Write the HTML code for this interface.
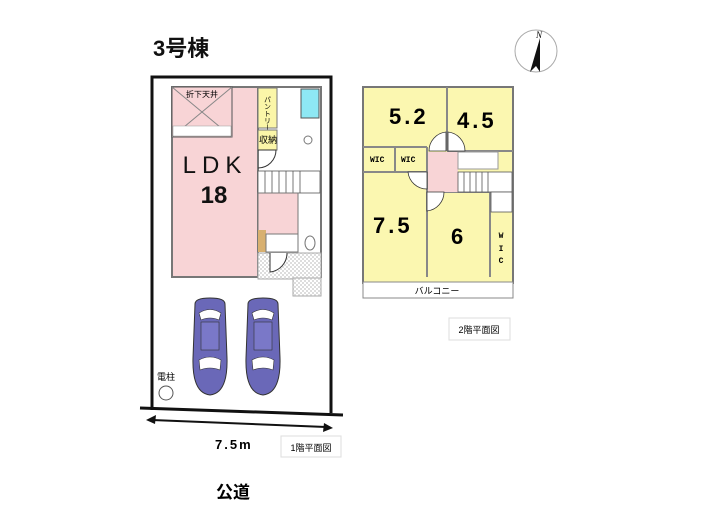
<!DOCTYPE html>
<html><head><meta charset="utf-8"><style>
body{margin:0;background:#fff;}
svg{display:block;font-family:"Liberation Sans","Noto Sans CJK JP",sans-serif;}
</style></head><body>
<svg width="705" height="525" viewBox="0 0 705 525" xmlns="http://www.w3.org/2000/svg">
<defs>
<pattern id="hat" width="4" height="4" patternUnits="userSpaceOnUse"><rect width="4" height="4" fill="#fff"/><rect width="2" height="2" fill="#ddd"/><rect x="2" y="2" width="2" height="2" fill="#ddd"/></pattern>
<g id="car">
<path d="M4 6 Q4 0 19 0 Q34 0 34 6 L36 60 Q37 95 19 97 Q1 95 2 60 Z" fill="#6a68b8" stroke="#333" stroke-width="1"/>
<path d="M8 15 Q19 8 30 15 L28 22 Q19 18 10 22 Z" fill="#fff" stroke="#333" stroke-width="0.6"/>
<rect x="10" y="24" width="18" height="28" fill="#7a78c8" stroke="#333" stroke-width="0.6"/>
<path d="M8 62 Q19 56 30 62 L29 72 Q19 68 9 72 Z" fill="#fff" stroke="#333" stroke-width="0.6"/>
</g>
</defs>
<text x="153" y="56" font-size="22" font-weight="bold" fill="#111">3号棟</text>
<circle cx="536" cy="51" r="21" fill="none" stroke="#aaa"/>
<polygon points="540,38 530,72 536,66 540,72" fill="#111"/>
<text x="536" y="38" font-size="9" font-style="italic" font-family="Liberation Serif,serif">N</text>
<polyline points="152,410 152,77 331,77 331,413" fill="none" stroke="#111" stroke-width="3"/>
<line x1="140" y1="408" x2="343" y2="415" stroke="#111" stroke-width="3"/>
<!-- 1F -->
<rect x="172" y="87" width="86" height="190" fill="#f8d4d6" stroke="#777" stroke-width="2"/>
<rect x="172" y="87" width="60" height="50" fill="#f8d4d6" stroke="#555" stroke-width="1"/>
<line x1="172" y1="87" x2="232" y2="137" stroke="#888"/><line x1="232" y1="87" x2="172" y2="137" stroke="#888"/>
<rect x="173" y="126" width="58" height="10" fill="#fff" stroke="#999" stroke-width="0.5"/>
<text x="186" y="97" font-size="8">折下天井</text>
<rect x="258" y="87" width="63" height="190" fill="#fff" stroke="#777" stroke-width="2"/>
<rect x="258" y="88" width="19" height="40" fill="#fbf6a8" stroke="#777"/>
<text x="267" y="96" font-size="7" writing-mode="tb">パントリー</text>
<rect x="301" y="89" width="18" height="29" fill="#8ee8f4" stroke="#555"/>
<rect x="258" y="130" width="19" height="20" fill="#fbf6a8" stroke="#777"/>
<text x="259" y="143" font-size="9">収納</text>
<circle cx="308" cy="140" r="4" fill="none" stroke="#777"/>
<path d="M258 150 L276 150 A18 18 0 0 1 258 168" fill="none" stroke="#333"/>
<g stroke="#555" stroke-width="0.8">
<rect x="258" y="171" width="62" height="22" fill="#fff"/>
<line x1="265" y1="171" x2="265" y2="193"/><line x1="272" y1="171" x2="272" y2="193"/><line x1="279" y1="171" x2="279" y2="193"/><line x1="286" y1="171" x2="286" y2="193"/><line x1="293" y1="171" x2="293" y2="193"/><line x1="300" y1="171" x2="300" y2="193"/>
</g>
<rect x="258" y="193" width="40" height="58" fill="#f8d4d6" stroke="#777"/>
<rect x="258" y="230" width="8" height="22" fill="#d8b070"/>
<rect x="266" y="234" width="32" height="18" fill="#fff" stroke="#777"/>
<ellipse cx="310" cy="243" rx="5" ry="7" fill="#fff" stroke="#777"/>
<rect x="258" y="253" width="63" height="26" fill="url(#hat)" stroke="#aaa"/>
<rect x="293" y="278" width="28" height="18" fill="url(#hat)" stroke="#aaa"/>
<path d="M270 253 L270 272 A19 19 0 0 0 287 253" fill="#fff" stroke="#333"/>
<text x="215" y="173" font-size="24" text-anchor="middle" fill="#111" letter-spacing="6">LDK</text>
<text x="214" y="203" font-size="24" font-weight="bold" text-anchor="middle" fill="#111">18</text>
<use href="#car" x="191" y="298"/>
<use href="#car" x="244" y="298"/>
<text x="157" y="380" font-size="9">電柱</text>
<circle cx="166" cy="393" r="7" fill="#fff" stroke="#555"/>
<line x1="152" y1="420" x2="326" y2="427" stroke="#111" stroke-width="2"/>
<polygon points="146,420 156,415 155,424" fill="#111"/>
<polygon points="333,428 323,432 324,423" fill="#111"/>
<text x="215" y="449" font-size="13" font-weight="bold" letter-spacing="2">7.5m</text>
<rect x="281" y="436" width="60" height="21" fill="#fff" stroke="#ddd"/>
<text x="311" y="451" font-size="9" text-anchor="middle">1階平面図</text>
<text x="216" y="498" font-size="17" font-weight="bold">公道</text>
<!-- 2F -->
<rect x="363" y="87" width="150" height="196" fill="#fbf7b0" stroke="#777" stroke-width="2"/>
<rect x="363" y="282" width="150" height="16" fill="#fff" stroke="#888"/>
<text x="437" y="294" font-size="9" text-anchor="middle">バルコニー</text>
<g fill="none" stroke="#888" stroke-width="2">
<line x1="447" y1="87" x2="447" y2="151"/>
<line x1="363" y1="147" x2="427" y2="147"/>
<line x1="395" y1="147" x2="395" y2="172"/>
<line x1="427" y1="147" x2="427" y2="277"/>
<line x1="363" y1="172" x2="427" y2="172"/>
<line x1="447" y1="151" x2="513" y2="151"/>
<line x1="427" y1="192" x2="490" y2="192"/>
<line x1="490" y1="192" x2="490" y2="277"/>
</g>
<rect x="428" y="152" width="30" height="40" fill="#f8d4d6"/>
<g fill="#fff" stroke="#333" stroke-width="0.8">
<path d="M446 151 L446 132 A19 19 0 0 0 429 151 Z"/>
<path d="M448 151 L448 132 A19 19 0 0 1 465 151 Z"/>
<path d="M427 192 L427 211 A19 19 0 0 0 444 192 Z" />
<path d="M427 172 L408 172 A19 19 0 0 0 427 189 Z"/>
</g>
<rect x="458" y="152" width="40" height="17" fill="#fff" stroke="#999"/>
<g stroke="#555" stroke-width="0.8"><rect x="458" y="172" width="54" height="20" fill="#fff"/>
<line x1="464" y1="172" x2="464" y2="192"/><line x1="470" y1="172" x2="470" y2="192"/><line x1="476" y1="172" x2="476" y2="192"/><line x1="482" y1="172" x2="482" y2="192"/><line x1="488" y1="172" x2="488" y2="192"/>
<rect x="491" y="192" width="21" height="20" fill="#fff"/></g>
<text x="389" y="124" font-size="22" font-weight="bold" letter-spacing="3">5.2</text>
<text x="457" y="128" font-size="22" font-weight="bold" letter-spacing="3">4.5</text>
<text x="370" y="162" font-size="8" font-weight="bold" font-family="Liberation Mono,monospace">WIC</text>
<text x="401" y="162" font-size="8" font-weight="bold" font-family="Liberation Mono,monospace">WIC</text>
<text x="373" y="233" font-size="22" font-weight="bold" letter-spacing="3">7.5</text>
<text x="451" y="244" font-size="22" font-weight="bold">6</text>
<text x="501" y="238" font-size="8" font-weight="bold" font-family="Liberation Mono,monospace" text-anchor="middle">W</text>
<text x="501" y="251" font-size="8" font-weight="bold" font-family="Liberation Mono,monospace" text-anchor="middle">I</text>
<text x="501" y="263" font-size="8" font-weight="bold" font-family="Liberation Mono,monospace" text-anchor="middle">C</text>
<rect x="449" y="318" width="61" height="22" fill="#fff" stroke="#ddd"/>
<text x="479" y="333" font-size="9" text-anchor="middle">2階平面図</text>
</svg>
</body></html>
